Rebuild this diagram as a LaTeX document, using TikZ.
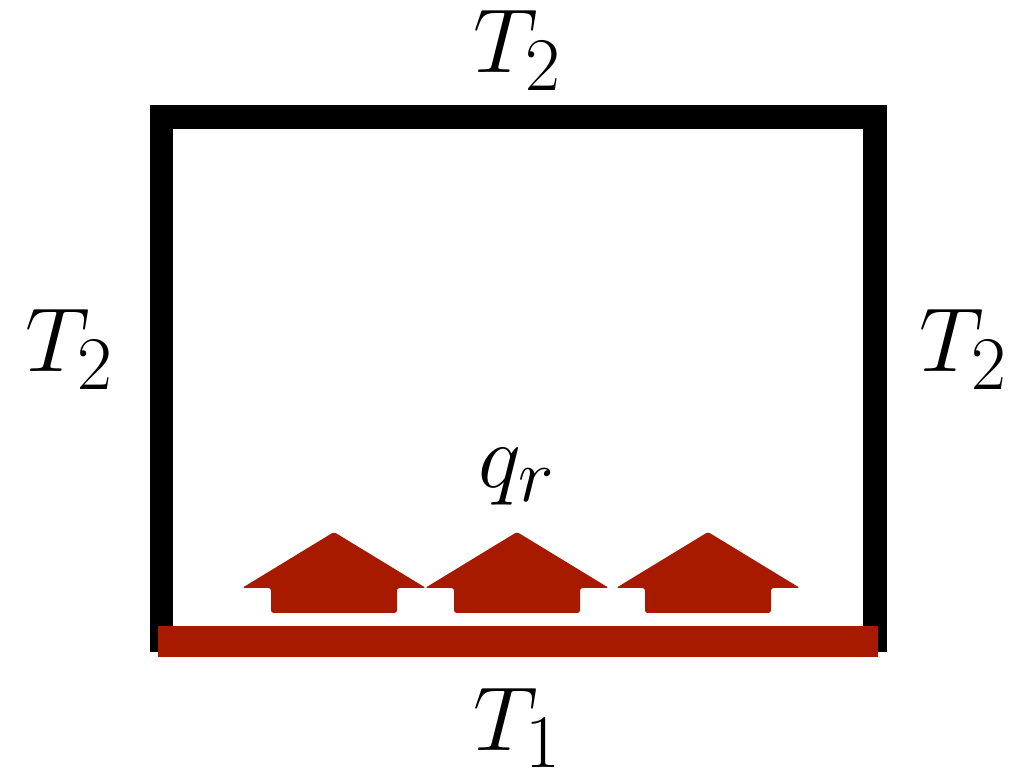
\documentclass[tikz,border=0pt]{standalone}
\usepackage{tikz}
\usetikzlibrary{calc}
\definecolor{heatred}{RGB}{168,26,0}
\tikzset{
  wall/.style={line width=0.48cm,black,line join=miter},
  plate/.style={fill=heatred},
  flux/.style={fill=heatred,rounded corners=1.5pt},
  lbl/.style={font=\Huge,scale=2.08,inner sep=0pt,anchor=base},
}

\begin{document}
\begin{tikzpicture}[x=0.02cm,y=-0.02cm]
    \useasboundingbox (0,0) rectangle (1035,783);
    % ---------- cold walls on three sides ----------
    \draw[wall] (161.5,652) -- (161.5,117) -- (875,117) -- (875,652);
    % ---------- heated plate at the bottom ----------
    \fill[plate] (158,626) rectangle (878,657);
    % ---------- heat flux arrows ----------
    \foreach \cx in {334,517,708} {
      \fill[flux] (\cx,532) -- (\cx+92,588) -- (\cx+63,588) -- (\cx+63,613)
                 -- (\cx-63,613) -- (\cx-63,588) -- (\cx-92,588) -- cycle;
    }
    % ---------- temperatures and flux ----------
    \node[lbl] (ttop) at (518,73) {$T_2$};
    \node[lbl] (tleft) at (70,372) {$T_2$};
    \node[lbl] (tright) at (964,372) {$T_2$};
    \node[lbl] (flux) at (517,488) {$q_r$};
    \node[lbl] (tbot) at (518,750) {$T_1$};
\end{tikzpicture}
\end{document}
